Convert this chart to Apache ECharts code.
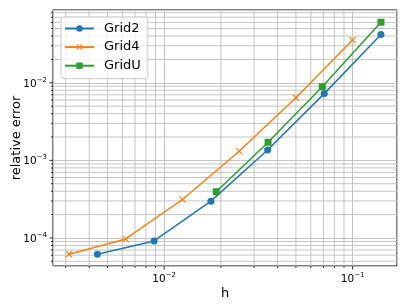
<!DOCTYPE html>
<html>
<head>
<meta charset="utf-8">
<script src="https://cdn.jsdelivr.net/npm/echarts@6/dist/echarts.min.js"></script>
<style>html,body{margin:0;padding:0;background:#fff}#c{width:407px;height:307px}</style>
</head>
<body>
<div id="c"></div>
<script>
// ---- data ----
const seriesNames = ['Grid2', 'Grid4', 'GridU'];
const hGrid2 = [0.00442, 0.00884, 0.0177, 0.0354, 0.0707, 0.1414];
const errGrid2 = [6.16e-5, 9.15e-5, 2.98e-4, 1.36e-3, 7.25e-3, 0.0420];
const hGrid4 = [0.003125, 0.00625, 0.0125, 0.025, 0.05, 0.1];
const errGrid4 = [6.16e-5, 9.7e-5, 3.13e-4, 1.31e-3, 6.4e-3, 0.0356];
const hGridU = [0.0189, 0.0356, 0.0690, 0.1414];
const errGridU = [3.94e-4, 1.71e-3, 8.9e-3, 0.0603];

// axis ranges and ticks
const xMin = 0.00257, xMax = 0.172;
const yMin = 4.35e-5, yMax = 0.0867;
const xMajorTicks = [0.01, 0.1];
const xMinorTicks = [0.003, 0.004, 0.005, 0.006, 0.007, 0.008, 0.009,
  0.02, 0.03, 0.04, 0.05, 0.06, 0.07, 0.08, 0.09];
const yMajorTicks = [1e-4, 1e-3, 1e-2];
const yMinorTicks = [5e-5, 6e-5, 7e-5, 8e-5, 9e-5,
  2e-4, 3e-4, 4e-4, 5e-4, 6e-4, 7e-4, 8e-4, 9e-4,
  2e-3, 3e-3, 4e-3, 5e-3, 6e-3, 7e-3, 8e-3, 9e-3,
  2e-2, 3e-2, 4e-2, 5e-2, 6e-2, 7e-2, 8e-2];
const xLabel = 'h';
const yLabel = 'relative error';

// ---- chart ----
const FONT = 'DejaVu Sans';
const colors = ['#1f77b4', '#ff7f0e', '#2ca02c'];
const gridColor = '#c4c4c4';
const xSymbol = 'path://M0,1.2L1.2,0L5,3.8L8.8,0L10,1.2L6.2,5L10,8.8L8.8,10L5,6.2L1.2,10L0,8.8L3.8,5Z';

function pow10Label(v) {
  const l = Math.log10(v);
  const e = Math.round(l);
  if (Math.abs(l - e) > 1e-6) return '';
  return '{b|10}{s|' + (e < 0 ? '\u2212' + (-e) : e) + '}';
}
const richLbl = {
  b: { fontSize: 10.5, fontFamily: FONT, color: '#000', verticalAlign: 'bottom', lineHeight: 13 },
  s: { fontSize: 7, fontFamily: FONT, color: '#000', verticalAlign: 'top', lineHeight: 8 }
};

const zip = (a, b) => a.map((v, i) => [v, b[i]]);

const chart = echarts.init(document.getElementById('c'), null, { renderer: 'canvas' });

const tickStyle = { color: '#000' };
function gridLineSeries(values, vertical) {
  return {
    type: 'custom', silent: true, z: 1, clip: false,
    encode: { x: 0, y: 1 },
    data: values.map(v => vertical ? [v, yMin] : [xMin, v]),
    renderItem: function (params, api) {
      const v = vertical ? api.value(0) : api.value(1);
      const p1 = vertical ? api.coord([v, yMin]) : api.coord([xMin, v]);
      const p2 = vertical ? api.coord([v, yMax]) : api.coord([xMax, v]);
      return {
        type: 'line', silent: true,
        shape: { x1: p1[0], y1: p1[1], x2: p2[0], y2: p2[1] },
        style: { stroke: gridColor, lineWidth: 1 }
      };
    }
  };
}
const series = [
  gridLineSeries(xMinorTicks, true),
  gridLineSeries(yMinorTicks, false),
  // x ticks
  {
    type: 'scatter', silent: true, clip: false, z: 5, symbol: 'rect',
    symbolSize: [1, 3.5], symbolOffset: [0, 1.75], itemStyle: tickStyle,
    data: xMajorTicks.map(v => [v, yMin])
  },
  {
    type: 'scatter', silent: true, clip: false, z: 5, symbol: 'rect',
    symbolSize: [1, 2], symbolOffset: [0, 1], itemStyle: tickStyle,
    data: xMinorTicks.map(v => [v, yMin])
  },
  // y ticks
  {
    type: 'scatter', silent: true, clip: false, z: 5, symbol: 'rect',
    symbolSize: [3.5, 1], symbolOffset: [-1.75, 0], itemStyle: tickStyle,
    data: yMajorTicks.map(v => [xMin, v])
  },
  {
    type: 'scatter', silent: true, clip: false, z: 5, symbol: 'rect',
    symbolSize: [2, 1], symbolOffset: [-1, 0], itemStyle: tickStyle,
    data: yMinorTicks.map(v => [xMin, v])
  },
  {
    name: seriesNames[0], type: 'line', z: 3, data: zip(hGrid2, errGrid2),
    symbol: 'circle', symbolSize: 7, showAllSymbol: true,
    lineStyle: { color: colors[0], width: 1.5 },
    itemStyle: { color: colors[0] }
  },
  {
    name: seriesNames[1], type: 'line', z: 3, data: zip(hGrid4, errGrid4),
    symbol: xSymbol, symbolSize: 7, showAllSymbol: true,
    lineStyle: { color: colors[1], width: 1.5 },
    itemStyle: { color: colors[1] }
  },
  {
    name: seriesNames[2], type: 'line', z: 3, data: zip(hGridU, errGridU),
    symbol: 'rect', symbolSize: 7, showAllSymbol: true,
    lineStyle: { color: colors[2], width: 1.5 },
    itemStyle: { color: colors[2] }
  }
];

chart.setOption({
  animation: false,
  color: colors,
  textStyle: { fontFamily: FONT },
  grid: {
    left: 53, right: 10, top: 10, bottom: 41,
    show: true, borderColor: '#000', borderWidth: 1, backgroundColor: 'transparent',
    containLabel: false, outerBoundsMode: 'none'
  },
  legend: {
    data: seriesNames.map(n => ({ name: n })),
    orient: 'vertical', left: 61, top: 17,
    padding: [5, 7, 6.5, 3],
    itemWidth: 29, itemHeight: 8, itemGap: 5.6,
    backgroundColor: 'rgba(255,255,255,0.8)',
    borderColor: '#cccccc', borderWidth: 1, borderRadius: 3,
    textStyle: { fontSize: 13, fontFamily: FONT, color: '#000', padding: [0, 0, 0, 5] },
    selectedMode: false
  },
  xAxis: {
    type: 'log', logBase: 10, min: xMin, max: xMax,
    name: xLabel, nameLocation: 'middle', nameGap: 21, nameMoveOverlap: false,
    nameTextStyle: { fontSize: 13, fontFamily: FONT, color: '#000' },
    axisLine: { show: false },
    axisTick: { show: false },
    minorTick: { show: false },
    splitLine: { show: true, lineStyle: { color: gridColor, width: 1 } },
    axisLabel: { margin: 6, formatter: pow10Label, rich: richLbl, showMinLabel: false, showMaxLabel: false }
  },
  yAxis: {
    type: 'log', logBase: 10, min: yMin, max: yMax,
    name: yLabel, nameLocation: 'middle', nameGap: 30, nameRotate: 90, nameMoveOverlap: false,
    nameTextStyle: { fontSize: 13, fontFamily: FONT, color: '#000' },
    axisLine: { show: false },
    axisTick: { show: false },
    minorTick: { show: false },
    splitLine: { show: true, lineStyle: { color: gridColor, width: 1 } },
    axisLabel: { margin: 6, formatter: pow10Label, rich: richLbl, showMinLabel: false, showMaxLabel: false }
  },
  series: series
});
</script>
</body>
</html>
